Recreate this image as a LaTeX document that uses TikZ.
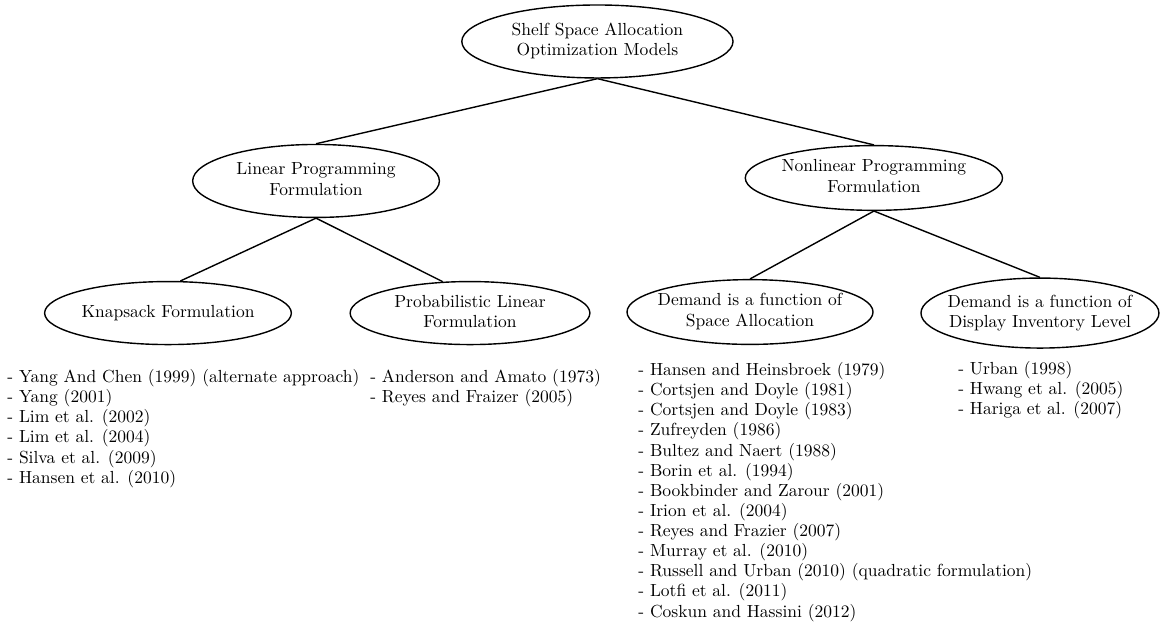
\documentclass[tikz,border=0pt]{standalone}
\usetikzlibrary{shapes.geometric}

\newcommand{\inell}[1]{\makebox[0pt]{\begin{tabular}{@{}c@{}}#1\end{tabular}}}

\begin{document}
\begin{tikzpicture}
  \tikzset{
    mynode/.style 2 args={
      ellipse,
      draw=black,
      thick,
      inner sep=0pt,
      minimum width=#1,
      minimum height=#2,
      font=\fontsize{10}{11.5}\selectfont
    },
    reflist/.style={
      anchor=north west,
      inner sep=0pt,
      align=left,
      font=\fontsize{10}{11.5}\selectfont
    }
  }

  \useasboundingbox (0pt, 0pt) rectangle (662.9pt, -356.6pt);

  \node[mynode={155pt}{41.7pt}] (root) at (341.4pt, -23.7pt) {\inell{Shelf Space Allocation\\Optimization Models}};
  \node[mynode={141pt}{41.7pt}] (lin) at (180.6pt, -103.4pt) {\inell{Linear Programming\\Formulation}};
  \node[mynode={147pt}{37pt}] (non) at (499.4pt, -101.7pt) {\inell{Nonlinear Programming\\Formulation}};
  \node[mynode={141pt}{36pt}] (knap) at (96pt, -178.9pt) {\inell{Knapsack Formulation}};
  \node[mynode={137pt}{36pt}] (prob) at (268.6pt, -178.9pt) {\inell{Probabilistic Linear\\Formulation}};
  \node[mynode={140.6pt}{37pt}] (dspace) at (428.6pt, -178.3pt) {\inell{Demand is a function of\\Space Allocation}};
  \node[mynode={136pt}{40pt}] (ddisp) at (594.3pt, -178.9pt) {\inell{Demand is a function of\\Display Inventory Level}};

  \draw[thick] (root.south) -- (lin.north);
  \draw[thick] (root.south) -- (non.north);
  \draw[thick] (lin.south) -- (knap.69);
  \draw[thick] (lin.south) -- (prob.131);
  \draw[thick] (non.south) -- (dspace.north);
  \draw[thick] (non.south) -- (ddisp.north);

  \node[reflist] (knaplist) at (4pt, -210.9pt) {- Yang And Chen (1999) (alternate approach)\\- Yang (2001)\\- Lim et al. (2002)\\- Lim et al. (2004)\\- Silva et al. (2009)\\- Hansen et al. (2010)};
  \node[reflist] (problist) at (211.4pt, -210.9pt) {- Anderson and Amato (1973)\\- Reyes and Fraizer (2005)};
  \node[reflist] (dspacelist) at (364.6pt, -206.9pt) {- Hansen and Heinsbroek (1979)\\- Cortsjen and Doyle (1981)\\- Cortsjen and Doyle (1983)\\- Zufreyden (1986)\\- Bultez and Naert (1988)\\- Borin et al. (1994)\\- Bookbinder and Zarour (2001)\\- Irion et al. (2004)\\- Reyes and Frazier (2007)\\- Murray et al. (2010)\\- Russell and Urban (2010) (quadratic formulation)\\- Lotfi et al. (2011)\\- Coskun and Hassini (2012)};
  \node[reflist] (ddisplist) at (547.4pt, -206.3pt) {- Urban (1998)\\- Hwang et al. (2005)\\- Hariga et al. (2007)};
\end{tikzpicture}
\end{document}
